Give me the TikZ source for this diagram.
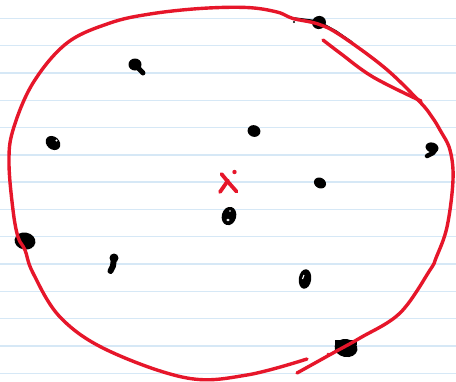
\documentclass[tikz,border=0pt]{standalone}
\definecolor{penred}{RGB}{230,22,42}
\definecolor{ruleblue}{RGB}{214,232,246}
\begin{document}
\begin{tikzpicture}[x=1pt,y=-1pt,
  ruled/.style={draw=ruleblue,line width=1.4pt},
  redpen/.style={draw=penred,line width=3.4pt,line cap=round,line join=round},
  inkline/.style={draw=black,line cap=round,line join=round},
  ink/.style={fill=black},
  hole/.style={fill=white}]
\useasboundingbox (0,0) rectangle (456,381);
\fill[white] (0,0) rectangle (456,381);
\foreach \i in {0,...,13} \draw[ruled] (0,{18.3+27.3*\i}) -- (456,{18.3+27.3*\i});

% black marks
\coordinate (d1) at (319,22.5);
\fill[ink,rotate around={20:(d1)}] (d1) ellipse (7 and 6.5);
\fill[ink] (294,22) circle (1.1);
\draw[inkline,line width=1.6pt] (294,18) -- (318,21) -- (336,31) -- (352,42);

\coordinate (d2) at (135,64.5);
\fill[ink] (d2) ellipse (6.5 and 6);
\draw[inkline,line width=5pt] (d2) -- (143,73);

\coordinate (d3) at (254,131);
\fill[ink,rotate around={-20:(d3)}] (d3) ellipse (6.5 and 5.8);

\coordinate (d4) at (53,143);
\fill[ink,rotate around={-40:(d4)}] (d4) ellipse (8 and 6.3);
\fill[hole] (56.5,140.5) circle (1.2);

\coordinate (d5) at (432,147.5);
\fill[ink,rotate around={-15:(d5)}] (d5) ellipse (6.5 and 5);
\draw[inkline,line width=4.5pt] (436,149) -- (433,153) -- (427,156);

\coordinate (d6) at (320,183);
\fill[ink,rotate around={-30:(d6)}] (d6) ellipse (6.3 and 5.2);

\coordinate (d7) at (229,216);
\fill[ink,rotate around={-15:(d7)}] (d7) ellipse (7.2 and 9.3);
\fill[hole] (228,220) ellipse (1.7 and 1.3);
\fill[hole] (230,211) circle (0.9);

\coordinate (d8) at (25,241);
\fill[ink,rotate around={-10:(d8)}] (d8) ellipse (10.5 and 8.5);

\coordinate (d9) at (114,258);
\fill[ink] (d9) circle (4.5);
\draw[inkline,line width=6pt] (d9) -- (113,266) -- (110.5,271);

\coordinate (d10) at (305,279);
\fill[ink,rotate around={-8:(d10)}] (d10) ellipse (6.2 and 9.8);
\draw[white,line width=1.1pt] (304,275) -- (302.5,279);

\coordinate (d11) at (346,348);
\fill[ink,rotate around={-10:(d11)}] (d11) ellipse (11.5 and 9);
\fill[ink] (335,340) rectangle (357,345);

% red pen
\draw[redpen] plot[smooth,tension=0.6] coordinates {
  (307,359) (247,375) (187,378) (107,350) (60,317) (33,273) (25,250)
  (18,237) (13,210) (9,163) (13,130) (33,83) (67,43) (110,23) (150,14)
  (200,8.5) (247,7.5) (277,12) (293,18.5) (318,24) (340,35) (385,68)
  (420,102) (432,117) (440,130) (450,150) (453,180) (447,227) (436,258)
  (430,270) (400,313) (360,338) (333,353) (297,373)};
\draw[redpen] plot[smooth,tension=0.6] coordinates {
  (323,40) (340,53) (373,77) (421,101)};

% red x
\draw[redpen,line width=3.8pt] (221.5,174) -- (229,183) -- (236.5,191.5);
\draw[redpen,line width=3.8pt] (228,180.5) -- (220,192);
\fill[penred] (234.5,172) circle (2.2);
\fill[penred] (328,354) circle (1.5);
\end{tikzpicture}
\end{document}
